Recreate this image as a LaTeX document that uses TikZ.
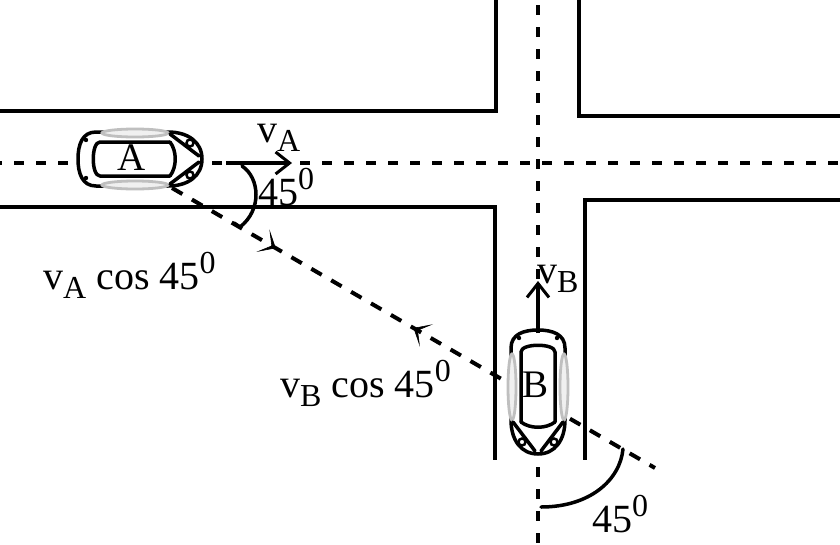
\documentclass[tikz,border=0pt]{standalone}
\usepackage{fontspec}
\setmainfont{Liberation Serif}
\usetikzlibrary{arrows.meta,decorations.markings}
\newcommand{\lsub}[1]{\raisebox{-9pt}{\fontsize{32}{32}\selectfont #1}}
\newcommand{\lsup}[1]{\raisebox{16pt}{\fontsize{32}{32}\selectfont #1}}
\tikzset{
  road/.style={line width=3.5pt, line join=miter},
  centreline/.style={line width=4pt, dash pattern=on 10pt off 12pt},
  diagline/.style={line width=4pt, dash pattern=on 12pt off 11pt},
  lbl/.style={inner sep=0pt, anchor=base west, font=\fontsize{40}{46}\selectfont},
  carlbl/.style={inner sep=0pt, anchor=center, font=\fontsize{39}{44}\selectfont},
  carline/.style={line width=3.5pt, line join=round, line cap=round},
  wheel/.style={draw=black!25, fill=black!6, line width=2.8pt},
  velarrow/.style={line width=3.5pt, -{Straight Barb[length=14pt,width=22pt,line width=3pt]}},
  anglearc/.style={line width=3.5pt, line cap=round},
  midhead/.tip={Stealth[length=15pt,width=26pt,inset=10pt,line width=0.6pt]},
  car/.pic={
    % body
    \draw[carline, fill=white] (-44,-27) -- (28,-27)
      .. controls (48,-27) and (62,-17) .. (62,0)
      .. controls (62,17) and (48,27) .. (28,27) -- (-44,27)
      .. controls (-58,27) and (-62,14) .. (-62,0)
      .. controls (-62,-14) and (-58,-27) .. (-44,-27) -- cycle;
    % side wheels
    \draw[wheel] (-5,-26) ellipse [x radius=33, y radius=4];
    \draw[wheel] (-5,26) ellipse [x radius=33, y radius=4];
    % cabin
    \draw[carline] (30,-17) -- (-40,-17)
      .. controls (-49,-17) and (-49,17) .. (-40,17) -- (30,17);
    \draw[carline] (30,-17) .. controls (37,-8) and (37,8) .. (30,17);
    % hood lines
    \draw[carline] (30,-25) -- (59,-3);
    \draw[carline] (30,25) -- (59,3);
    % headlights
    \draw[line width=2.5pt] (50,-16) circle [radius=3.5];
    \draw[line width=2.5pt] (50,16) circle [radius=3.5];
    % tail lights
    \fill (-54,-19) circle [radius=2.2];
    \fill (-54,19) circle [radius=2.2];
  }
}
\begin{document}
\begin{tikzpicture}[x=1pt,y=-1pt]
\useasboundingbox (0,0) rectangle (840,544);
% roads
\draw[road] (0,111) -- (496,111) -- (496,0);
\draw[road] (579,0) -- (579,116) -- (840,116);
\draw[road] (0,207) -- (495,207) -- (495,460);
\draw[road] (840,200) -- (585,200) -- (585,460);
% centre lines
\coordinate (hL) at (0,163);
\coordinate (hR) at (840,163);
\coordinate (vT) at (538,0);
\coordinate (vBt) at (538,544);
\coordinate (dS) at (172,188);
\coordinate (dE) at (655,468);
\draw[centreline, dash phase=7.7pt] (hL) -- (hR);
\draw[centreline, dash phase=17pt] (vT) -- (vBt);
\draw[diagline, postaction={decorate},
  decoration={markings,
    mark=at position 0.215 with {\arrow{midhead}},
    mark=at position 0.5 with {\arrowreversed{midhead}}}] (dS) -- (dE);
% cars
\pic at (140,159) {car};
\pic[rotate=-90] at (538,392) {car};
\node[carlbl] (labA) at (132,158) {A};
\node[carlbl] (labB) at (535,385) {B};
% velocity arrows
\coordinate (vAs) at (226,163);
\coordinate (vAe) at (292,163);
\coordinate (vBs) at (538,333);
\coordinate (vBe) at (538,281);
\draw[velarrow] (vAs) -- (vAe);
\draw[velarrow] (vBs) -- (vBe);
% angle arcs
\coordinate (a1s) at (242,166);
\coordinate (a1e) at (240,227);
\coordinate (a1h) at (234,223);
\draw[anglearc] (a1s) .. controls (260,178) and (262,210) .. (a1e) -- (a1h);
\coordinate (a2s) at (623,449);
\coordinate (a2e) at (541,507);
\draw[anglearc] (a2s) .. controls (620,480) and (590,507) .. (a2e);
% labels
\node[lbl] (tvA) at (257,142) {v\lsub{A}};
\node[lbl] (tvB) at (537,283) {v\lsub{B}};
\node[lbl] (tangA) at (258,205) {45\lsup{0}};
\node[lbl] (tangB) at (592,532) {45\lsup{0}};
\node[lbl] (tcA) at (43,289) {v\lsub{A} cos 45\lsup{0}};
\node[lbl] (tcB) at (280,397) {v\lsub{B} cos 45\lsup{0}};
\end{tikzpicture}
\end{document}
